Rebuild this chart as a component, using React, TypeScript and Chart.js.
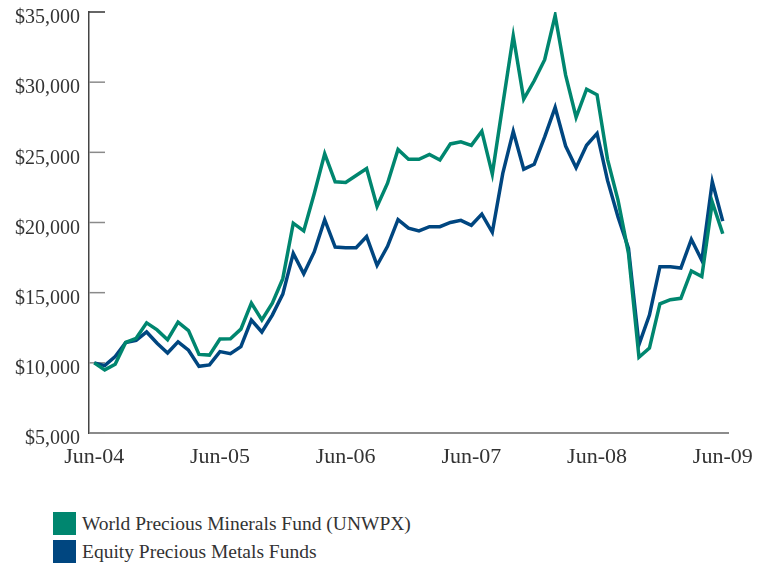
import React, { useEffect, useRef } from "react";
import { Chart, registerables } from "chart.js";

Chart.register(...registerables);

const MONTH_NAMES = ["Jan", "Feb", "Mar", "Apr", "May", "Jun", "Jul", "Aug", "Sep", "Oct", "Nov", "Dec"];

// Monthly categories Jun-04 .. Jun-09
const categories: string[] = [];
for (let i = 0; i <= 60; i++) {
  const m = (5 + i) % 12;
  const y = 4 + Math.floor((5 + i) / 12);
  categories.push(`${MONTH_NAMES[m]}-${String(y).padStart(2, "0")}`);
}

const xTickLabels = ["Jun-04", "Jun-05", "Jun-06", "Jun-07", "Jun-08", "Jun-09"];
const yTickValues = [5000, 10000, 15000, 20000, 25000, 30000, 35000];

const worldPreciousMinerals = [
  10000, 9500, 9900, 11450, 11750, 12850, 12350, 11650, 12900, 12300,
  10600, 10550, 11700, 11720, 12400, 14250, 13050, 14250, 16000, 19950,
  19400, 22050, 24900, 22900, 22850, 23350, 23850, 21150, 22800, 25200,
  24500, 24500, 24850, 24450, 25600, 25750, 25500, 26500, 23450, 28400,
  33300, 28800, 30100, 31600, 34750, 30500, 27500, 29500, 29100, 24500,
  21600, 17800, 10400, 11050, 14200, 14500, 14600, 16550, 16150, 21450,
  19200,
];

const equityPreciousMetals = [
  10000, 9800, 10450, 11450, 11600, 12200, 11400, 10700, 11500, 10900,
  9750, 9850, 10800, 10650, 11150, 13050, 12200, 13400, 14900, 17800,
  16350, 17900, 20200, 18250, 18200, 18200, 19000, 16950, 18300, 20200,
  19600, 19400, 19700, 19700, 20000, 20150, 19800, 20600, 19300, 23500,
  26500, 23800, 24150, 26100, 28200, 25450, 23900, 25500, 26350, 23000,
  20400, 18150, 11300, 13400, 16850, 16850, 16750, 18800, 17300, 22900,
  20100,
];

const seriesNames = ["World Precious Minerals Fund (UNWPX)", "Equity Precious Metals Funds"];
const GREEN = "#00866f";
const BLUE = "#004680";
const TEXT = "#333333";
const FONT = "'Liberation Serif', 'Times New Roman', serif";

const CANVAS_W = 769;
const CANVAS_H = 500;

const innerTicks = {
  id: "innerTicks",
  beforeDatasetsDraw(chart: any) {
    const ctx = chart.ctx;
    const y = chart.scales.y;
    const left = chart.chartArea.left;
    ctx.save();
    yTickValues.forEach((v, idx) => {
      const py = y.getPixelForValue(v);
      ctx.beginPath();
      ctx.lineWidth = 1.5;
      ctx.strokeStyle = idx === yTickValues.length - 1 ? "#333333" : "#8a8a8a";
      ctx.moveTo(left, py);
      ctx.lineTo(left + 16, py);
      ctx.stroke();
    });
    ctx.restore();
  },
};

export default function App() {
  const ref = useRef<HTMLCanvasElement | null>(null);

  useEffect(() => {
    if (!ref.current) return;
    const chart = new Chart(ref.current, {
      type: "line",
      data: {
        labels: categories,
        datasets: [
          {
            label: seriesNames[0],
            data: worldPreciousMinerals,
            borderColor: GREEN,
            backgroundColor: GREEN,
            borderWidth: 3.5,
            pointRadius: 0,
            tension: 0,
            fill: false,
          },
          {
            label: seriesNames[1],
            data: equityPreciousMetals,
            borderColor: BLUE,
            backgroundColor: BLUE,
            borderWidth: 3.5,
            pointRadius: 0,
            tension: 0,
            fill: false,
          },
        ],
      },
      options: {
        responsive: false,
        animation: false,
        layout: { padding: { top: 12, right: 41, left: 0, bottom: 0 } },
        plugins: {
          legend: { display: false },
          tooltip: { enabled: false },
        },
        scales: {
          x: {
            type: "category",
            offset: true,
            grid: { display: false, drawTicks: false },
            border: { display: true, color: "#8c8c8c", width: 2 },
            ticks: {
              autoSkip: false,
              maxRotation: 0,
              minRotation: 0,
              padding: 11,
              color: TEXT,
              font: { family: FONT, size: 22 },
              callback: (_v: any, i: number) =>
                xTickLabels.includes(categories[i]) ? categories[i] : "",
            },
            afterFit: (s: any) => {
              s.height = CANVAS_H - 433;
              s.paddingLeft = 0;
              s.paddingRight = 0;
            },
          },
          y: {
            min: 5000,
            max: 35000,
            grid: { display: false, drawTicks: false },
            border: { display: true, color: "#444444", width: 1.5 },
            ticks: {
              stepSize: 5000,
              padding: 9,
              labelOffset: 6,
              color: TEXT,
              font: { family: FONT, size: 20 },
              callback: (v: any) => "$" + Number(v).toLocaleString("en-US"),
            },
            afterFit: (s: any) => {
              s.width = 89;
              s.paddingTop = 0;
              s.paddingBottom = 0;
            },
          },
        },
      },
      plugins: [innerTicks],
    });
    return () => chart.destroy();
  }, []);

  const legendItem = (name: string, color: string, top: number) => (
    <div
      key={name}
      style={{
        position: "absolute",
        left: 53,
        top,
        height: 23,
        display: "flex",
        alignItems: "center",
      }}
    >
      <div style={{ width: 23, height: 23, background: color, flex: "none" }} />
      <span
        style={{
          marginLeft: 6,
          fontFamily: FONT,
          fontSize: 19.5,
          color: TEXT,
          whiteSpace: "nowrap",
          lineHeight: "23px",
        }}
      >
        {name}
      </span>
    </div>
  );

  return (
    <div style={{ position: "absolute", left: 0, top: 0, width: 769, height: 564, background: "#fff" }}>
      <canvas ref={ref} width={CANVAS_W} height={CANVAS_H} style={{ position: "absolute", left: 0, top: 0 }} />
      {legendItem(seriesNames[0], GREEN, 512)}
      {legendItem(seriesNames[1], BLUE, 540)}
    </div>
  );
}
